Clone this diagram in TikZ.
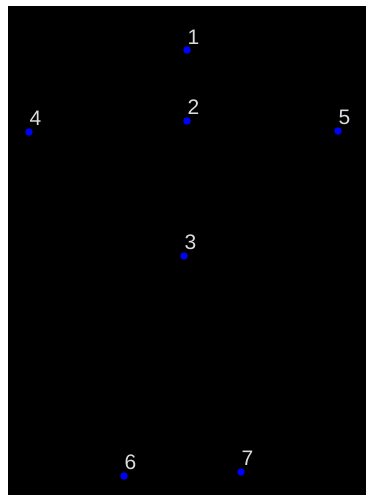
\documentclass[tikz,border=0pt]{standalone}
\usepackage{fontspec}
\setmainfont{Liberation Sans}
\usepackage{tikz}
\usetikzlibrary{positioning}

\definecolor{numgray}{HTML}{DCDCDC}
\definecolor{ptblue}{HTML}{0000FF}

\begin{document}
\begin{tikzpicture}[x=1pt, y=-1pt,
  pt/.style={circle, fill=ptblue, inner sep=0pt, minimum size=7.5pt},
  num/.style={text=numgray, font=\fontsize{21}{25}\selectfont, anchor=base west, inner sep=0pt}]
\useasboundingbox (0,0) rectangle (366,495);
\fill[black] (8,6) rectangle (366,495);
% key points
\node[pt] (p1) at (187,50) {};
\node[pt] (p2) at (187,121) {};
\node[pt] (p3) at (184,256) {};
\node[pt] (p4) at (29,132) {};
\node[pt] (p5) at (338,131) {};
\node[pt] (p6) at (124,476) {};
\node[pt] (p7) at (241,472) {};
% numbers
\node[num] (n1) at ([xshift=0.5pt,yshift=5pt]p1.center) {1};
\node[num] (n2) at ([xshift=0.5pt,yshift=6.5pt]p2.center) {2};
\node[num] (n3) at ([xshift=0.5pt,yshift=7pt]p3.center) {3};
\node[num] (n4) at ([xshift=0.5pt,yshift=6.5pt]p4.center) {4};
\node[num] (n5) at ([xshift=0.5pt,yshift=6.5pt]p5.center) {5};
\node[num] (n6) at ([xshift=0.5pt,yshift=6.5pt]p6.center) {6};
\node[num] (n7) at ([xshift=0.5pt,yshift=6.5pt]p7.center) {7};
\end{tikzpicture}
\end{document}
